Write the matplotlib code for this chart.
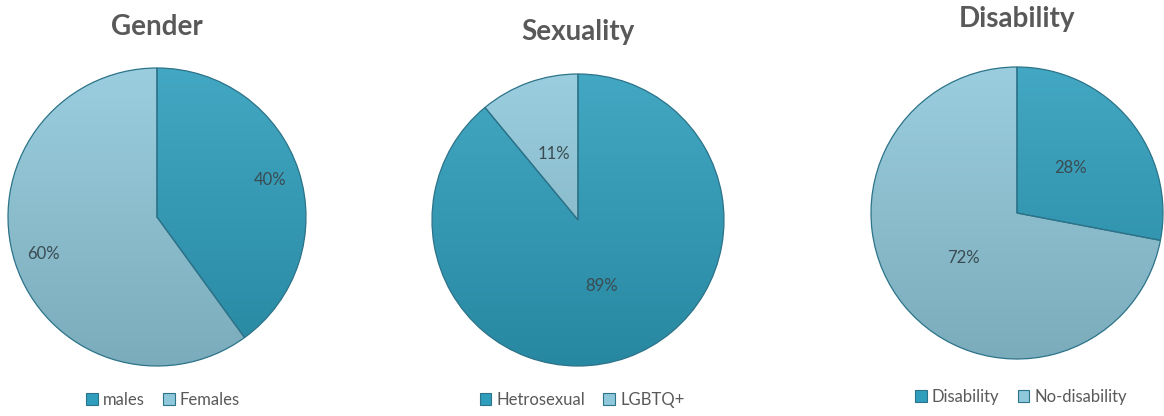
import numpy as np
import matplotlib.pyplot as plt
from matplotlib.patches import Patch
from matplotlib.colors import to_rgb

plt.rcParams['font.family'] = ['Lato', 'DejaVu Sans']

titles = ['Gender', 'Sexuality', 'Disability']
gender_labels = ['males', 'Females']
gender_vals = [40, 60]
sex_labels = ['Hetrosexual', 'LGBTQ+']
sex_vals = [89, 11]
dis_labels = ['Disability', 'No-disability']
dis_vals = [28, 72]

dark = '#2e9ebc'
light = '#8fc8da'

W, H = 1164, 416
fig = plt.figure(figsize=(W / 100, H / 100), dpi=100)

# pixel layout: pie centre, radius, title y, legend centre
layout = [
    dict(cx=157, cy=217, r=149, ty=27, lx=163, ly=400, pd=0.8),
    dict(cx=578, cy=220, r=146, ty=32, lx=582, ly=400, pd=0.48),
    dict(cx=1017, cy=213, r=146, ty=19, lx=1021, ly=397, pd=0.48),
]
data = [(gender_labels, gender_vals, [dark, light]),
        (sex_labels, sex_vals, [dark, light]),
        (dis_labels, dis_vals, [dark, light])]


def shade(c, f):
    c = np.array(to_rgb(c))
    if f > 0:
        return c + (1 - c) * f
    return c * (1 + f)


for title, (labels, vals, cols), L in zip(titles, data, layout):
    cx, cy, r = L['cx'], L['cy'], L['r']
    ax = fig.add_axes([(cx - r) / W, (H - cy - r) / H, 2 * r / W, 2 * r / H])
    wedges, texts, autotexts = ax.pie(
        vals, colors=cols, startangle=90, counterclock=False,
        autopct='%.0f%%', pctdistance=L['pd'],
        wedgeprops=dict(edgecolor='#2c7389', linewidth=0.9),
        textprops=dict(fontsize=12, color='#3a4b52'))
    ax.set_xlim(-1.0, 1.0)
    ax.set_ylim(-1.0, 1.0)
    ax.set_aspect('auto')
    ax.axis('off')

    # vertical gradient inside each slice
    t = np.linspace(0, 1, 256)[:, None]
    for w, c in zip(wedges, cols):
        top = shade(c, 0.1)
        bot = shade(c, -0.14)
        img = (top[None, None, :] * (1 - t[:, :, None]) + bot[None, None, :] * t[:, :, None])
        im = ax.imshow(img, extent=(-1, 1, -1, 1), origin='upper', aspect='auto', zorder=1)
        im.set_clip_path(w)
        w.set_facecolor('none')
        w.set_zorder(3)
    for tx in autotexts:
        tx.set_zorder(4)

    fig.text(cx / W, 1 - L['ty'] / H, title, ha='center', va='center',
             fontsize=20, fontweight='bold', color='#595959')

    handles = [Patch(facecolor=c, edgecolor='#2c7389', linewidth=0.8) for c in cols]
    fig.legend(handles, labels, loc='center', bbox_to_anchor=(L['lx'] / W, 1 - L['ly'] / H),
               ncol=2, frameon=False, fontsize=12, handlelength=0.7, handleheight=0.7,
               handletextpad=0.3, columnspacing=1.1, labelcolor='#595959')

fig.savefig('out.png', dpi=100, facecolor='white')
